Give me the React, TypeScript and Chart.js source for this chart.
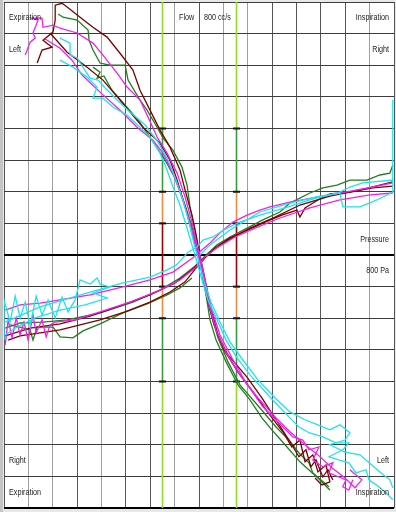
import React, { useEffect, useRef } from "react";
import { Chart, registerables } from "chart.js";

Chart.register(...registerables);

// Axes: x = pressure (Pa), y = flow (cc/s); 16 divisions each
const xMin = -800;
const xMax = 800;
const yMin = -800;
const yMax = 800;
const gridStep = 100;

// marker columns (pressure values) and their coloured flow bands
const markerX = [-150, 150];
const markerBandEdges = [-800, -400, -200, -100, 100, 200, 400, 800];
const markerBandColors = ["#8fdc2a", "#3a9a3a", "#ee8a44", "#a80000", "#ee8a44", "#3a9a3a", "#8fdc2a"];
const markerTicks = [-400, -200, -100, 100, 200, 400];

const topLeftLabels = ["Expiration", "Left"];
const topRightLabels = ["Inspiration", "Right"];
const bottomLeftLabels = ["Right", "Expiration"];
const bottomRightLabels = ["Left", "Inspiration"];
const flowLabels = ["Flow", "800 cc/s"];
const pressureLabels = ["Pressure", "800 Pa"];

type P = [number, number];

// ---- steep loops (flow vs box pressure) ----
const greenSteepA: P[] = [
  [-578, 762], [-558, 752], [-500, 743], [-455, 711], [-451, 679], [-435, 648], [-406, 607], [-365, 600],
  [-303, 600], [-291, 553], [-242, 490], [-213, 458], [-172, 404], [-148, 370], [-107, 332], [-70, 278],
  [-49, 221], [-37, 152], [-16, 79], [-4, 25], [4, -22], [21, -95], [45, -174], [78, -262], [119, -338],
  [168, -411], [246, -480], [316, -544], [369, -585], [410, -626], [451, -657], [467, -689], [533, -733],
];
const greenSteepB: P[] = [
  [-435, 594], [-406, 578], [-418, 559], [-390, 566], [-357, 521], [-303, 474], [-250, 427], [-193, 363],
  [-139, 300], [-94, 237], [-57, 158], [-25, 79], [0, 0], [16, -63], [29, -126], [45, -205], [70, -269],
  [111, -338], [160, -411], [209, -458], [258, -515], [299, -553], [353, -600], [414, -654], [488, -705],
  [537, -743],
];
const redSteepA: P[] = [
  [-664, 607], [-644, 648], [-603, 657], [-640, 679], [-599, 705], [-590, 743], [-590, 790], [-562, 796],
  [-541, 784], [-488, 752], [-435, 720], [-377, 689], [-324, 638], [-271, 585], [-242, 521], [-201, 458],
  [-160, 395], [-119, 341], [-78, 269], [-57, 205], [-29, 126], [-8, 47], [8, -16], [25, -79], [45, -158],
  [78, -253], [119, -316], [197, -386], [258, -452], [316, -521], [369, -585], [410, -638], [439, -616],
  [459, -670], [480, -648], [508, -702], [529, -679], [549, -711],
];
const redSteepB: P[] = [
  [-611, 702], [-541, 641], [-459, 594], [-394, 553], [-324, 490], [-230, 404], [-160, 354], [-119, 300],
  [-90, 237], [-53, 142], [-21, 47], [4, -22], [21, -85], [37, -149], [62, -221], [103, -300], [160, -370],
  [230, -442], [291, -506], [344, -559], [381, -607], [414, -585], [435, -654], [467, -632], [488, -686],
  [521, -664], [537, -717], [504, -727], [476, -705],
];
const magentaSteepA: P[] = [
  [-713, 632], [-693, 673], [-672, 686], [-681, 702], [-660, 743], [-685, 749], [-644, 749], [-640, 720],
  [-599, 727], [-570, 717], [-500, 702], [-435, 670], [-394, 632], [-336, 575], [-295, 531], [-242, 490],
  [-209, 436], [-172, 373], [-131, 322], [-90, 259], [-57, 183], [-29, 104], [-8, 32], [12, -32], [29, -95],
  [53, -174], [86, -253], [135, -325], [193, -404], [262, -480], [328, -531], [385, -575], [426, -585],
  [451, -616], [492, -607], [467, -648], [508, -670], [549, -657], [533, -689], [574, -702], [603, -711],
  [590, -733], [615, -743], [631, -711],
];
const magentaSteepB: P[] = [
  [-631, 683], [-570, 654], [-521, 616], [-480, 569], [-406, 515], [-316, 452], [-254, 404], [-189, 363],
  [-148, 322], [-107, 259], [-74, 190], [-41, 111], [-16, 38], [4, -22], [21, -85], [41, -158], [70, -237],
  [111, -307], [168, -379], [242, -452], [316, -515], [373, -559], [435, -600], [488, -632], [545, -673],
  [599, -705], [640, -736], [668, -711], [619, -679],
];
const cyanSteepA: P[] = [
  [-570, 616], [-517, 594], [-459, 562], [-418, 531], [-435, 496], [-394, 496], [-353, 468], [-295, 442],
  [-242, 404], [-201, 373], [-160, 322], [-131, 269], [-107, 215], [-78, 158], [-53, 95], [-29, 32],
  [-8, -22], [12, -79], [37, -142], [74, -205], [111, -269], [156, -325], [209, -379], [291, -449],
  [369, -512], [410, -544], [451, -562], [508, -575], [562, -594], [615, -594], [590, -616], [533, -638],
  [574, -648], [615, -657], [644, -689], [685, -679], [697, -711], [738, -733], [767, -752], [795, -774],
];
const cyanSteepB: P[] = [
  [-570, 686], [-529, 670], [-529, 632], [-500, 623], [-476, 594], [-447, 559], [-414, 553], [-385, 528],
  [-336, 490], [-283, 452], [-221, 411], [-168, 357], [-127, 300], [-94, 237], [-66, 174], [-41, 104],
  [-21, 38], [0, -22], [21, -85], [49, -149], [86, -212], [127, -275], [180, -332], [242, -395], [312, -452],
  [373, -496], [435, -521], [488, -537], [537, -553], [578, -537], [619, -562], [599, -585], [537, -600],
  [599, -623], [660, -632], [709, -664], [742, -686], [783, -711], [795, -736],
];

// ---- shallow loops ----
const greenShallowA: P[] = [
  [-775, -221], [-734, -228], [-693, -237], [-681, -269], [-664, -228], [-599, -228], [-570, -259],
  [-517, -262], [-476, -240], [-406, -218], [-312, -183], [-213, -155], [-131, -126], [-78, -104], [-29, -73],
];
const greenShallowB: P[] = [
  [-795, -231], [-734, -215], [-640, -212], [-541, -205], [-406, -183], [-271, -149], [-160, -111],
  [-78, -73], [-16, -35], [25, -3], [74, 32], [127, 57], [197, 85], [262, 111], [332, 136], [373, 164],
  [455, 196], [508, 212], [566, 221], [619, 237], [689, 237], [742, 253], [783, 259], [795, 284],
];
const redShallowA: P[] = [
  [-783, -269], [-734, -256], [-652, -246], [-570, -237], [-488, -221], [-406, -205], [-303, -180],
  [-201, -149], [-119, -117], [-57, -85], [-12, -41], [25, -9], [66, 22], [127, 54], [201, 79], [271, 104],
  [340, 126], [402, 142], [414, 120], [435, 149], [488, 174], [537, 193], [619, 199], [713, 212], [795, 218],
];
const redShallowB: P[] = [
  [-795, -256], [-693, -231], [-570, -218], [-447, -193], [-324, -161], [-201, -126], [-98, -88],
  [-29, -47], [12, -16], [57, 16], [119, 47], [209, 85], [312, 120], [414, 158], [537, 186], [660, 205],
  [795, 231],
];
const magentaShallowA: P[] = [
  [-795, -174], [-734, -158], [-652, -152], [-570, -142], [-447, -126], [-312, -101], [-201, -79],
  [-107, -54], [-25, -9], [45, 38], [86, 70], [139, 104], [197, 126], [250, 142], [291, 152], [373, 167],
  [484, 183], [578, 196], [713, 215], [795, 228],
];
const magentaShallowB: P[] = [
  [-795, -284], [-783, -205], [-767, -262], [-750, -199], [-734, -253], [-718, -212], [-701, -269],
  [-681, -190], [-668, -246], [-644, -205], [-627, -259], [-611, -221], [-590, -212], [-508, -205],
  [-406, -180], [-283, -149], [-160, -111], [-78, -79], [-16, -41], [25, -6], [78, 25], [148, 57],
  [230, 85], [332, 117], [455, 149], [578, 174], [701, 190], [795, 196],
];
const cyanShallowA: P[] = [
  [-795, -212], [-652, -164], [-517, -133], [-418, -111], [-312, -88], [-201, -70], [-131, -47], [-94, -32],
  [-66, -9], [-45, 9], [-8, 25], [16, 47], [57, 57], [115, 85], [168, 104], [250, 126], [353, 149],
  [455, 174], [578, 199], [619, 215], [672, 228], [795, 237], [795, 490], [795, 199], [730, 174],
  [660, 152], [590, 152], [578, 196], [496, 186], [373, 164], [250, 136], [127, 79], [45, 32], [4, 0],
];
const cyanShallowB: P[] = [
  [-800, -269], [-800, -142], [-775, -212], [-754, -130], [-734, -199], [-713, -149], [-693, -224],
  [-668, -130], [-644, -190], [-619, -142], [-590, -199], [-562, -133], [-537, -180], [-508, -142],
  [-488, -79], [-447, -92], [-418, -73], [-406, -92], [-365, -101], [-435, -120], [-377, -136],
  [-467, -158], [-570, -174], [-672, -199], [-754, -231], [-795, -253],
];

const GREEN = "#1f7f1f";
const RED = "#7c0000";
const MAGENTA = "#f020f0";
const CYAN = "#20e2ee";

// drawn order: first dataset ends up on top
const traces: { data: P[]; color: string }[] = [
  { data: cyanSteepA, color: CYAN },
  { data: cyanSteepB, color: CYAN },
  { data: cyanShallowA, color: CYAN },
  { data: cyanShallowB, color: CYAN },
  { data: magentaSteepA, color: MAGENTA },
  { data: magentaSteepB, color: MAGENTA },
  { data: magentaShallowA, color: MAGENTA },
  { data: magentaShallowB, color: MAGENTA },
  { data: redSteepA, color: RED },
  { data: redSteepB, color: RED },
  { data: redShallowA, color: RED },
  { data: redShallowB, color: RED },
  { data: greenSteepA, color: GREEN },
  { data: greenSteepB, color: GREEN },
  { data: greenShallowA, color: GREEN },
  { data: greenShallowB, color: GREEN },
];

const lightX = new Set([-700, -600, -400, -100, 100, 200, 700]);

const backgroundPlugin = {
  id: "bg",
  beforeDraw(chart: any) {
    const { ctx, chartArea, width, height } = chart;
    ctx.save();
    ctx.fillStyle = "#e8e8e8";
    ctx.fillRect(0, 0, width, height);
    ctx.fillStyle = "#c4c4c4";
    ctx.fillRect(0, 0, 3, height);
    ctx.fillStyle = "#ffffff";
    ctx.fillRect(chartArea.left, chartArea.top, chartArea.right - chartArea.left, chartArea.bottom - chartArea.top);
    ctx.restore();
  },
};

const markerPlugin = {
  id: "markers",
  beforeDatasetsDraw(chart: any) {
    const { ctx } = chart;
    const xs = chart.scales.x;
    const ys = chart.scales.y;
    ctx.save();
    markerX.forEach((mx) => {
      const px = Math.round(xs.getPixelForValue(mx)) + 0.5;
      for (let i = 0; i < markerBandColors.length; i++) {
        const y1 = ys.getPixelForValue(markerBandEdges[i]);
        const y2 = ys.getPixelForValue(markerBandEdges[i + 1]);
        ctx.strokeStyle = markerBandColors[i];
        ctx.lineWidth = 1.6;
        ctx.beginPath();
        ctx.moveTo(px, y1);
        ctx.lineTo(px, y2);
        ctx.stroke();
      }
      ctx.fillStyle = "#111";
      markerTicks.forEach((t) => {
        const py = ys.getPixelForValue(t);
        ctx.fillRect(px - 3.5, py - 1, 7, 2);
      });
    });
    ctx.restore();
  },
};

const labelPlugin = {
  id: "labels",
  afterDraw(chart: any) {
    const { ctx, chartArea } = chart;
    const ys = chart.scales.y;
    const xs = chart.scales.x;
    const sx = 0.8;
    const draw = (text: string, x: number, y: number, align: "left" | "right") => {
      ctx.save();
      ctx.translate(x, y);
      ctx.scale(sx, 1);
      ctx.textAlign = align;
      ctx.textBaseline = "middle";
      ctx.fillText(text, 0, 0);
      ctx.restore();
    };
    ctx.save();
    ctx.font = "9px 'Liberation Sans', Arial, sans-serif";
    ctx.fillStyle = "#222";
    const L = chartArea.left + 5;
    const R = chartArea.right - 5;
    const rowH = ys.getPixelForValue(yMax - gridStep) - ys.getPixelForValue(yMax);
    const top1 = chartArea.top + rowH * 0.5;
    const top2 = chartArea.top + rowH * 1.5;
    const bot1 = chartArea.bottom - rowH * 1.5;
    const bot2 = chartArea.bottom - rowH * 0.5;
    draw(topLeftLabels[0], L, top1, "left");
    draw(topLeftLabels[1], L, top2, "left");
    draw(topRightLabels[0], R, top1, "right");
    draw(topRightLabels[1], R, top2, "right");
    draw(bottomLeftLabels[0], L, bot1, "left");
    draw(bottomLeftLabels[1], L, bot2, "left");
    draw(bottomRightLabels[0], R, bot1, "right");
    draw(bottomRightLabels[1], R, bot2, "right");
    const cx = xs.getPixelForValue(0);
    draw(flowLabels[0], cx - 20, top1, "left");
    draw(flowLabels[1], cx + 5, top1, "left");
    const cy = ys.getPixelForValue(0);
    draw(pressureLabels[0], R, cy - rowH * 0.5, "right");
    draw(pressureLabels[1], R, cy + rowH * 0.5, "right");
    ctx.restore();
  },
};

export default function App() {
  const ref = useRef<HTMLCanvasElement | null>(null);

  useEffect(() => {
    if (!ref.current) return;
    const chart = new Chart(ref.current, {
      type: "scatter",
      data: {
        datasets: traces.map((t) => ({
          data: t.data.map(([x, y]) => ({ x, y })),
          borderColor: t.color,
          backgroundColor: t.color,
          borderWidth: 1.3,
          showLine: true,
          pointRadius: 0,
          pointHoverRadius: 0,
          tension: 0,
        })),
      },
      options: {
        animation: false,
        responsive: false,
        maintainAspectRatio: false,
        layout: { padding: { left: 4, right: 2, top: 2, bottom: 4 } },
        plugins: { legend: { display: false }, tooltip: { enabled: false } },
        events: [],
        scales: {
          x: {
            type: "linear",
            min: xMin,
            max: xMax,
            ticks: { display: false, stepSize: gridStep },
            border: { display: false },
            grid: {
              drawTicks: false,
              color: (c: any) => (lightX.has(c.tick?.value) ? "#a0a0a0" : "#555555"),
              lineWidth: 1,
            },
          },
          y: {
            type: "linear",
            min: yMin,
            max: yMax,
            ticks: { display: false, stepSize: gridStep },
            border: { display: false },
            grid: {
              drawTicks: false,
              color: (c: any) => (c.tick?.value === 0 || c.tick?.value === yMin ? "#000000" : "#3c3c3c"),
              lineWidth: (c: any) => (c.tick?.value === 0 || c.tick?.value === yMin ? 2 : 1),
            },
          },
        },
      },
      plugins: [backgroundPlugin, markerPlugin, labelPlugin],
    });
    return () => chart.destroy();
  }, []);

  return (
    <div style={{ position: "fixed", left: 0, top: 0, width: 396, height: 512, background: "#e8e8e8" }}>
      <canvas ref={ref} width={396} height={512} style={{ display: "block", width: 396, height: 512 }} />
    </div>
  );
}
